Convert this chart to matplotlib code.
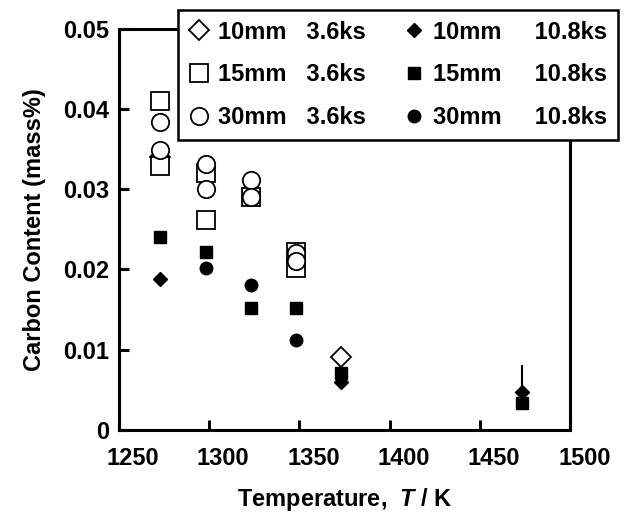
import numpy as np
import matplotlib
matplotlib.use('Agg')
import matplotlib.pyplot as plt
from matplotlib.transforms import ScaledTranslation

plt.rcParams['font.family'] = ['Liberation Sans', 'DejaVu Sans']
plt.rcParams['font.weight'] = 'bold'
plt.rcParams['mathtext.fontset'] = 'custom'
plt.rcParams['mathtext.it'] = 'Liberation Sans:italic:bold'
plt.rcParams['mathtext.rm'] = 'Liberation Sans:bold'

# data (T in K, carbon in mass%)
d10_36_T = [1273, 1373]
d10_36_C = [0.0340, 0.0091]
s15_36_T = [1273, 1273, 1298, 1298, 1323, 1348, 1348]
s15_36_C = [0.0410, 0.0329, 0.0320, 0.0262, 0.0290, 0.0222, 0.0202]
c30_36_T = [1273, 1273, 1298, 1298, 1323, 1323, 1348, 1348]
c30_36_C = [0.0384, 0.0349, 0.0331, 0.0300, 0.0312, 0.0290, 0.0220, 0.0211]

d10_108_T = [1273, 1373, 1473]
d10_108_C = [0.0188, 0.0060, 0.0047]
s15_108_T = [1273, 1298, 1323, 1348, 1373, 1473]
s15_108_C = [0.0241, 0.0222, 0.0152, 0.0152, 0.0071, 0.0034]
c30_108_T = [1298, 1323, 1348]
c30_108_C = [0.0202, 0.0181, 0.0112]

# error bar on the 1473 K point (upper side only)
err_T = [1473]
err_C = [0.0047]
err_up = [0.0034]

labels = ['10mm   3.6ks', '15mm   3.6ks', '30mm   3.6ks',
          '10mm     10.8ks', '15mm     10.8ks', '30mm     10.8ks']

fig = plt.figure(figsize=(6.26, 5.23), dpi=100)
ax = fig.add_axes([0.190, 0.178, 0.721, 0.767])

ax.errorbar(err_T, err_C, yerr=[[0], err_up], fmt='none', ecolor='black',
            elinewidth=1.5, capsize=0, zorder=2)

open_kw = dict(ls='none', mfc='white', mec='black', mew=1.3, zorder=3)
h1, = ax.plot(d10_36_T, d10_36_C, marker='D', ms=10, **open_kw)
h2, = ax.plot(s15_36_T, s15_36_C, marker='s', ms=13, **open_kw)
h3, = ax.plot(c30_36_T, c30_36_C, marker='o', ms=12.5, **open_kw)

fill_kw = dict(ls='none', color='black', zorder=4)
h5, = ax.plot(s15_108_T, s15_108_C, marker='s', ms=8.5, **fill_kw)
h4, = ax.plot(d10_108_T, d10_108_C, marker='D', ms=7.5, **fill_kw)
h6, = ax.plot(c30_108_T, c30_108_C, marker='o', ms=9, **fill_kw)

ax.set_xlim(1250, 1500)
ax.set_ylim(0, 0.05)
ax.set_xticks(np.arange(1250, 1501, 50))
ax.set_yticks([0, 0.01, 0.02, 0.03, 0.04, 0.05])
ax.set_yticklabels(['0', '0.01', '0.02', '0.03', '0.04', '0.05'])

for sp in ax.spines.values():
    sp.set_linewidth(2.2)
ax.tick_params(direction='in', length=7, width=2.2, labelsize=17)
ax.tick_params(axis='x', pad=12)
ax.tick_params(axis='y', pad=7)

# the scanned tick labels sit a little right of their ticks
shift = ScaledTranslation(14 / 100, 0, fig.dpi_scale_trans)
for lab in ax.get_xticklabels():
    lab.set_transform(lab.get_transform() + shift)

ax.set_xlabel(r'Temperature,  $T$ / K', fontsize=17, fontweight='bold', labelpad=12)
ax.set_ylabel('Carbon Content (mass%)', fontsize=17, fontweight='bold', labelpad=12)

leg = fig.legend([h1, h2, h3, h4, h5, h6], labels, ncol=2,
                 loc='upper left', bbox_to_anchor=(0.284, 0.981),
                 fontsize=17, frameon=True, fancybox=False, framealpha=1,
                 edgecolor='black', borderaxespad=0, borderpad=0.45,
                 handlelength=0.9, handletextpad=0.35, columnspacing=1.6,
                 labelspacing=0.84)
leg.get_frame().set_linewidth(1.8)
leg.set_zorder(10)

fig.savefig('out.png', dpi=100)
